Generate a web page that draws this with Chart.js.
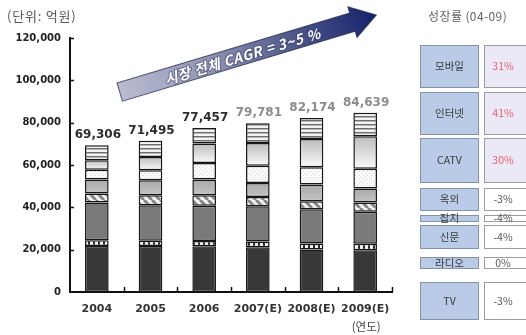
<!DOCTYPE html>
<html>
<head>
<meta charset="utf-8">
<script src="https://cdn.jsdelivr.net/npm/chart.js@4.4.0/dist/chart.umd.min.js"></script>
<style>
  html, body { margin: 0; padding: 0; background: #fff; }
  #wrap { width: 526px; height: 335px; position: relative; }
</style>
</head>
<body>
<div id="wrap"><canvas id="c" width="526" height="335"></canvas></div>
<script>
// 광고 매체별 시장 규모 (단위: 억원)
const years = ['2004', '2005', '2006', '2007(E)', '2008(E)', '2009(E)'];
const tv       = [21700, 21700, 21600, 21100, 20100, 19700];
const radio    = [ 2800,  2500,  2500,  2700,  2800,  3100];
const paper    = [17800, 16800, 16700, 16700, 16200, 15100];
const magazine = [ 4200,  4700,  4900,  4400,  3800,  4400];
const outdoor  = [ 6600,  7100,  7400,  6600,  7900,  6600];
const catv     = [ 4700,  4700,  7800,  8200,  8100,  9300];
const internet = [ 4400,  6300,  9200, 10700, 13400, 15400];
const mobile   = [ 7106,  7695,  7357,  9381,  9874, 11039];
const yTickValues = [0, 20000, 40000, 60000, 80000, 100000, 120000];

// 성장률 (04-09)
const growthMedia = ['모바일', '인터넷', 'CATV', '옥외', '잡지', '신문', '라디오', 'TV'];
const growthRates = ['31%', '41%', '30%', '-3%', '-4%', '-4%', '0%', '-3%'];

const stackOrder = [tv, radio, paper, magazine, outdoor, catv, internet, mobile];
const stackNames = ['TV', '라디오', '신문', '잡지', '옥외', 'CATV', '인터넷', '모바일'];
const totals = years.map((_, i) => stackOrder.reduce((s, arr) => s + arr[i], 0));

const fmt = v => v.toLocaleString('en-US');
const NUM_FONT = '"DejaVu Sans", Verdana, sans-serif';
const KR_FONT = '"Noto Sans CJK KR", "Noto Sans", sans-serif';

// --- fill patterns for the stacked segments ---
function makeTile(w, h, paint) {
  const c = document.createElement('canvas');
  c.width = w; c.height = h;
  paint(c.getContext('2d'), w, h);
  return document.getElementById('c').getContext('2d').createPattern(c, 'repeat');
}
const radioFill = makeTile(5, 4, (g, w, h) => {
  g.fillStyle = '#2b2b2b'; g.fillRect(0, 0, w, h);
  g.fillStyle = '#f2f2f2'; g.fillRect(0, 0, 3, h);
});
const hatchFill = makeTile(8, 8, (g, w, h) => {
  g.fillStyle = '#f4f4f4'; g.fillRect(0, 0, w, h);
  g.strokeStyle = '#858585'; g.lineWidth = 3;
  for (const o of [-8, 0, 8]) {
    g.beginPath(); g.moveTo(o, 0); g.lineTo(o + 8, 8); g.stroke();
  }
});
const dotFill = makeTile(4, 4, (g, w, h) => {
  g.fillStyle = '#fbfbfb'; g.fillRect(0, 0, w, h);
  g.fillStyle = '#d2d2d2'; g.fillRect(1, 1, 1, 1); g.fillRect(3, 3, 1, 1);
});
const stripeFill = makeTile(4, 4, (g, w, h) => {
  g.fillStyle = '#f3f3f3'; g.fillRect(0, 0, w, h);
  g.fillStyle = '#6e6e6e'; g.fillRect(0, 0, w, 1);
  g.fillStyle = '#b4b4b4'; g.fillRect(0, 1, w, 1);
});

// vertical shading inside one segment, computed from the stacked values
function shaded(datasetIndex, topColor, bottomColor, fallback) {
  return ctx => {
    const chart = ctx.chart;
    const y = chart.scales && chart.scales.y;
    if (!y || ctx.type !== 'data' || !chart.chartArea) return fallback;
    const i = ctx.dataIndex;
    let base = 0;
    for (let k = 0; k < datasetIndex; k++) base += stackOrder[k][i];
    const top = base + stackOrder[datasetIndex][i];
    const y0 = y.getPixelForValue(top), y1 = y.getPixelForValue(base);
    const g = chart.ctx.createLinearGradient(0, y0, 0, y1);
    g.addColorStop(0, topColor);
    g.addColorStop(1, bottomColor);
    return g;
  };
}

const fills = [
  '#383838',
  radioFill,
  '#7a7a7a',
  hatchFill,
  shaded(4, '#a9a9a9', '#c4c4c4', '#b5b5b5'),
  dotFill,
  shaded(6, '#bcbcbc', '#fafafa', '#dddddd'),
  stripeFill
];

const datasets = stackOrder.map((arr, k) => ({
  label: stackNames[k],
  data: arr,
  backgroundColor: fills[k],
  borderColor: '#161616',
  borderWidth: 1.5,
  borderSkipped: false,
  barPercentage: 0.44,
  categoryPercentage: 1.0
}));

// --- decorations: totals, inner ticks, unit captions, trend arrow, growth table ---
const decorations = {
  id: 'decorations',
  afterDraw(chart) {
    const ctx = chart.ctx;
    const { left, right, top, bottom } = chart.chartArea;
    const xs = chart.scales.x, ys = chart.scales.y;
    ctx.save();

    // inner tick marks
    ctx.strokeStyle = '#111'; ctx.lineWidth = 1.5;
    yTickValues.forEach(v => {
      if (v === 0) return;
      const py = Math.round(ys.getPixelForValue(v)) + 0.5;
      ctx.beginPath(); ctx.moveTo(left, py); ctx.lineTo(left + 4, py); ctx.stroke();
    });
    const cat = (right - left) / years.length;
    for (let k = 1; k <= years.length; k++) {
      const px = Math.round(left + k * cat) + 0.5;
      ctx.beginPath(); ctx.moveTo(px, bottom); ctx.lineTo(px, bottom - 5); ctx.stroke();
    }

    // totals above each stack
    const lastMeta = chart.getDatasetMeta(stackOrder.length - 1);
    ctx.font = 'bold 12px ' + NUM_FONT;
    ctx.textAlign = 'center'; ctx.textBaseline = 'bottom';
    totals.forEach((t, i) => {
      const bar = lastMeta.data[i];
      ctx.fillStyle = i < 3 ? '#2e2e2e' : '#8c8c8c';
      ctx.fillText(fmt(t), bar.x + 1, bar.y - 4);
    });

    // captions
    ctx.font = '13px ' + KR_FONT;
    ctx.letterSpacing = '0.8px';
    ctx.fillStyle = '#555'; ctx.textAlign = 'left'; ctx.textBaseline = 'middle';
    ctx.fillText('(단위: 억원)', 7, 16);
    ctx.letterSpacing = '0px';
    ctx.textAlign = 'center';
    ctx.font = '11.5px ' + KR_FONT;
    ctx.fillStyle = '#444';
    ctx.fillText('(연도)', xs.getPixelForValue(years.length - 1) + 1, 327);

    // trend arrow
    const ang = Math.atan2(-0.288, 0.958);
    ctx.save();
    ctx.translate(119.7, 92.1);
    ctx.rotate(ang);
    const len = 243, half = 9.5, head = 16, tip = 268;
    const grad = ctx.createLinearGradient(0, 0, tip, 0);
    grad.addColorStop(0, '#b9bcd2');
    grad.addColorStop(0.35, '#9095b3');
    grad.addColorStop(0.7, '#4a5488');
    grad.addColorStop(1, '#14226a');
    ctx.beginPath();
    ctx.moveTo(0, -half); ctx.lineTo(len, -half); ctx.lineTo(len, -head);
    ctx.lineTo(tip, 0); ctx.lineTo(len, head); ctx.lineTo(len, half);
    ctx.lineTo(0, half); ctx.closePath();
    ctx.fillStyle = grad; ctx.fill();
    ctx.strokeStyle = 'rgba(40,44,80,0.75)'; ctx.lineWidth = 1; ctx.stroke();
    ctx.font = 'italic bold 14px "Noto Sans CJK KR", "DejaVu Sans", sans-serif';
    ctx.letterSpacing = '0.6px';
    ctx.textAlign = 'center'; ctx.textBaseline = 'middle';
    ctx.lineWidth = 2; ctx.strokeStyle = 'rgba(60,64,100,0.55)';
    ctx.strokeText('시장 전체 CAGR = 3~5 %', 128, 1);
    ctx.fillStyle = '#ffffff';
    ctx.fillText('시장 전체 CAGR = 3~5 %', 128, 1);
    ctx.letterSpacing = '0px';
    ctx.restore();

    // growth table
    ctx.font = '12px ' + KR_FONT;
    ctx.letterSpacing = '0.4px';
    ctx.fillStyle = '#666'; ctx.textAlign = 'left'; ctx.textBaseline = 'middle';
    ctx.fillText('성장률 (04-09)', 428, 16);
    ctx.letterSpacing = '0px';
    const rows = [[45, 88], [92, 135], [138, 183], [188, 211], [215, 222], [225, 249], [257, 269], [282, 320]];
    rows.forEach(([y0, y1], r) => {
      const rising = !growthRates[r].startsWith('-') && growthRates[r] !== '0%';
      ctx.fillStyle = '#b9cbe6';
      ctx.fillRect(420, y0, 59, y1 - y0);
      ctx.strokeStyle = '#8593aa'; ctx.lineWidth = 1;
      ctx.strokeRect(420.5, y0 + 0.5, 58, y1 - y0 - 1);
      ctx.fillStyle = rising ? '#ebe9f5' : '#ffffff';
      ctx.fillRect(484, y0, 50, y1 - y0);
      ctx.strokeStyle = '#9a9aa8';
      ctx.strokeRect(484.5, y0 + 0.5, 50, y1 - y0 - 1);
      const cy = (y0 + y1) / 2;
      ctx.textAlign = 'center';
      ctx.font = '10.5px ' + KR_FONT;
      ctx.fillStyle = '#3a3a3a';
      ctx.fillText(growthMedia[r], 449.5, cy);
      ctx.fillStyle = rising ? '#e85c78' : '#555';
      ctx.fillText(growthRates[r], 503, cy);
    });

    ctx.restore();
  }
};

new Chart(document.getElementById('c'), {
  type: 'bar',
  data: { labels: years, datasets },
  options: {
    responsive: false,
    animation: false,
    layout: { padding: { left: 0, top: 38, right: 134, bottom: 0 } },
    plugins: { legend: { display: false }, tooltip: { enabled: false } },
    scales: {
      x: {
        stacked: true,
        grid: { display: false, drawTicks: false },
        border: { display: true, color: '#111', width: 2 },
        ticks: { color: '#333', font: { family: NUM_FONT, size: 11, weight: 'bold' }, padding: 11, maxRotation: 0 },
        afterFit: s => { s.height = 43; }
      },
      y: {
        stacked: true,
        min: 0, max: 120000,
        grid: { display: false, drawTicks: false },
        border: { display: true, color: '#111', width: 2 },
        afterBuildTicks: s => { s.ticks = yTickValues.map(v => ({ value: v })); },
        ticks: { color: '#222', font: { family: NUM_FONT, size: 10, weight: 'bold' }, padding: 9, callback: v => fmt(v) },
        afterFit: s => { s.width = 70; }
      }
    }
  },
  plugins: [decorations]
});
</script>
</body>
</html>
